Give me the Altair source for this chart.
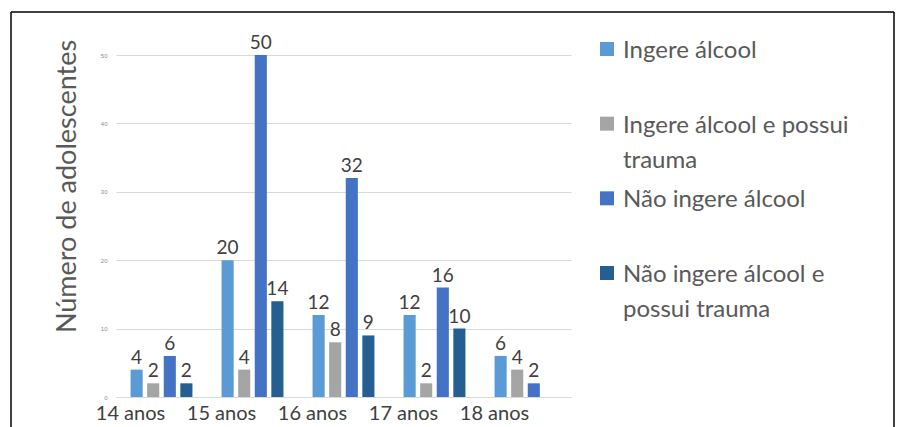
import altair as alt
import pandas as pd

ages = ["14 anos", "15 anos", "16 anos", "17 anos", "18 anos"]
series = ["Ingere álcool", "Ingere álcool e possui trauma",
          "Não ingere álcool", "Não ingere álcool e possui trauma"]
legend_labels = ["Ingere álcool", "Ingere álcool e possui\ntrauma",
                 "Não ingere álcool", "Não ingere álcool e\npossui trauma"]
ingere = [4, 20, 12, 12, 6]
ingere_trauma = [2, 4, 8, 2, 4]
nao_ingere = [6, 50, 32, 16, 2]
nao_ingere_trauma = [2, 14, 9, 10, None]
colors = ["#5B9BD5", "#A5A5A5", "#4472C4", "#255E91"]
y_ticks = [0, 10, 20, 30, 40, 50]

rows = []
for s, vals in zip(series, [ingere, ingere_trauma, nao_ingere, nao_ingere_trauma]):
    for a, v in zip(ages, vals):
        if v is not None:
            rows.append({"idade": a, "grupo": s, "valor": v})
df = pd.DataFrame(rows)
leg = pd.DataFrame({"grupo": series, "rotulo": legend_labels})

FONT = "Lato"
color_scale = alt.Scale(domain=series, range=colors)

x_enc = alt.X("idade:N", sort=ages, title=None,
              scale=alt.Scale(paddingInner=0.32, paddingOuter=0.16),
              axis=alt.Axis(labelAngle=0, labelFontSize=20, labelColor="#404040",
                            labelFont=FONT, labelPadding=6, ticks=False,
                            labelOffset=-31, domainColor="#d9d9d9"))
xo_enc = alt.XOffset("grupo:N", sort=series,
                     scale=alt.Scale(domain=series, paddingInner=0.27))
y_enc = alt.Y("valor:Q", scale=alt.Scale(domain=[0, 50], nice=False),
              axis=alt.Axis(values=y_ticks, domain=False, ticks=False,
                            gridColor="#d9d9d9", labelFontSize=6, labelColor="#8c8c8c",
                            labelPadding=9, title="Número de adolescentes",
                            titleFontSize=27, titleFont=FONT, titleColor="#595959",
                            titleFontWeight="normal", titlePadding=19, titleY=131))

base = alt.Chart(df)
bars = base.mark_bar().encode(
    x=x_enc, xOffset=xo_enc, y=y_enc,
    color=alt.Color("grupo:N", scale=color_scale, legend=None),
)
labels = base.mark_text(baseline="alphabetic", dy=-6, fontSize=19,
                        color="#404040", font=FONT).encode(
    x=x_enc, xOffset=xo_enc, y=y_enc, text=alt.Text("valor:Q"),
)
main = alt.layer(bars, labels)

leg_y = alt.Y("grupo:N", sort=series, axis=None,
              scale=alt.Scale(type="point", domain=series, range=[-6, 218],
                              padding=0))
leg_sq = alt.Chart(leg).mark_square(size=196, opacity=1).encode(
    x=alt.value(491), y=leg_y,
    color=alt.Color("grupo:N", scale=color_scale, legend=None),
)
leg_tx = alt.Chart(leg).mark_text(align="left", baseline="alphabetic", dy=9,
                                  fontSize=24, font=FONT, color="#595959",
                                  lineBreak="\n", lineHeight=35).encode(
    x=alt.value(507), y=leg_y, text="rotulo:N",
)
legend = alt.layer(leg_sq, leg_tx)

frame_df = pd.DataFrame({"k": [0]})
fb = alt.Chart(frame_df)
top = fb.mark_rule(color="black", strokeWidth=1.5).encode(
    x=alt.value(-105), x2=alt.value(778), y=alt.value(-43))
left = fb.mark_rule(color="black", strokeWidth=1.5).encode(
    x=alt.value(-105), y=alt.value(-43), y2=alt.value(372))
right = fb.mark_rule(color="black", strokeWidth=1.5).encode(
    x=alt.value(778), y=alt.value(-43), y2=alt.value(372))

chart = alt.layer(main, legend, top, left, right).resolve_scale(
    y="independent"
).properties(
    width=455, height=342,
    padding={"left": 10, "top": 11, "right": 0, "bottom": 0},
    background="white",
).configure_view(stroke=None)

chart.save("out.html", embed_options={"renderer": "svg", "actions": False})
